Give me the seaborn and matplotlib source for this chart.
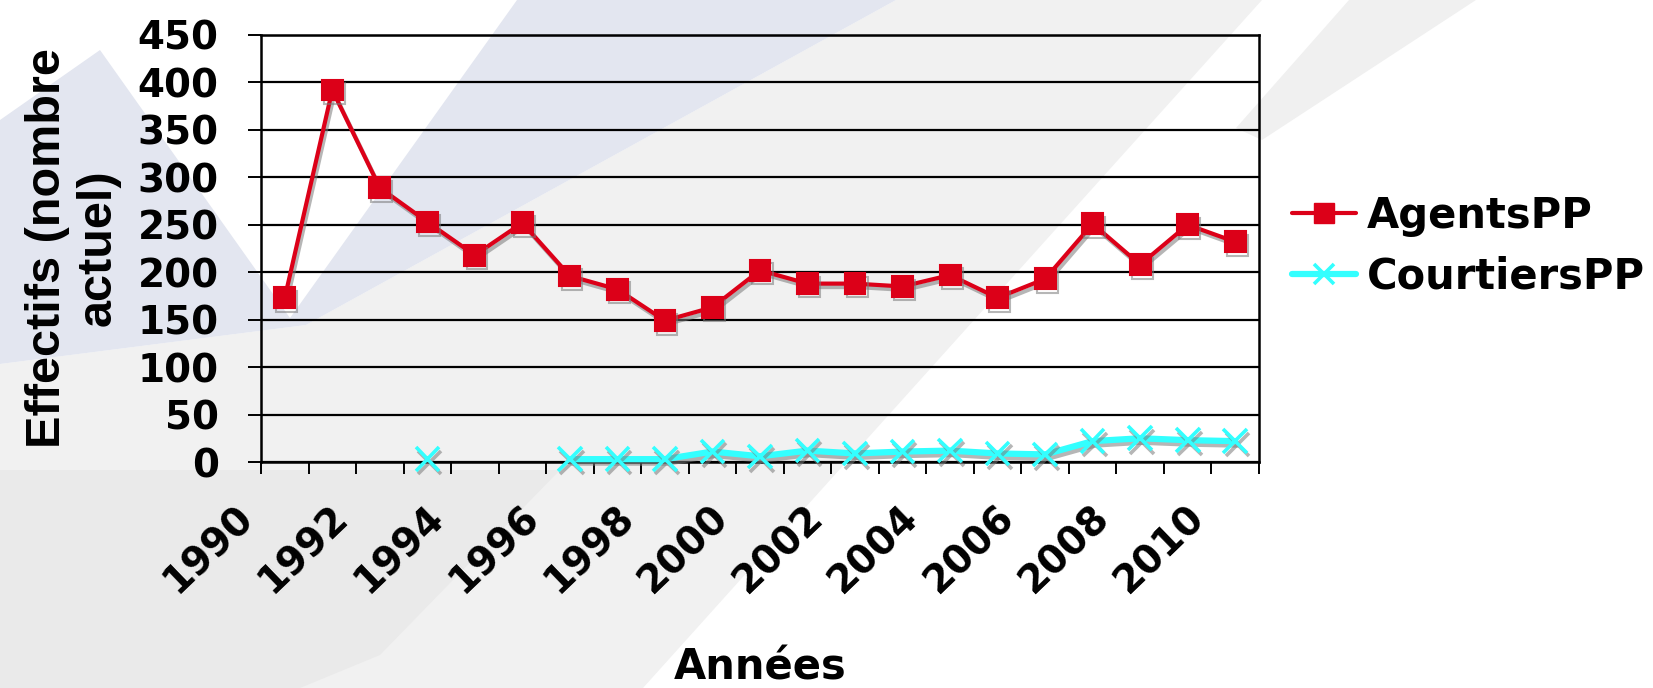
import numpy as np
import pandas as pd
import matplotlib
matplotlib.use("Agg")
import matplotlib.pyplot as plt
import matplotlib.patheffects as pe
from matplotlib.lines import Line2D
from matplotlib.patches import Polygon
from matplotlib.transforms import IdentityTransform
import seaborn as sns

# data
years = list(range(1990, 2011))
agents = [173, 392, 289, 253, 218, 252, 196, 182, 149, 163, 202,
          188, 188, 185, 197, 173, 193, 251, 208, 250, 232]
courtiers = [np.nan, np.nan, np.nan, 3, np.nan, np.nan, 3, 3, 3, 11, 6,
             12, 9, 11, 12, 9, 8, 22, 25, 23, 22]
series_names = ["AgentsPP", "CourtiersPP"]
y_ticks = list(range(0, 451, 50))

RED = "#DC0018"
CYAN = "#33FFFF"

sns.set_theme(style="white")
plt.rcParams["font.family"] = ["DejaVu Sans"]
plt.rcParams["font.weight"] = "bold"
plt.rcParams["text.color"] = "black"
plt.rcParams["xtick.color"] = "black"
plt.rcParams["ytick.color"] = "black"

W, H = 1653, 688
fig = plt.figure(figsize=(W / 100, H / 100), dpi=100)
fig.patch.set_facecolor("white")

# slide background shapes (pixel coords, y from top)
bg_shapes = [
    ([(896, 0), (1262, 0), (643, 688), (0, 688), (0, 364), (306, 325)], "#F1F1F1"),
    ([(0, 470), (560, 470), (380, 655), (300, 688), (0, 688)], "#EAEAEA"),
    ([(517, 0), (896, 0), (306, 325), (0, 364), (0, 120), (100, 50), (290, 318)], "#E3E6F0"),
    ([(1349, 0), (1476, 0), (1262, 140), (1236, 128)], "#F0F0F0"),
]
for verts, col in bg_shapes:
    pts = [(x, H - y) for x, y in verts]
    fig.patches.append(Polygon(pts, closed=True, facecolor=col, edgecolor="none",
                               transform=IdentityTransform(), zorder=-10))

ax = fig.add_axes([261 / W, (H - 462) / H, 998 / W, 427 / H])
ax.set_facecolor("none")

df = pd.DataFrame({"year": years, "agents": agents, "courtiers": courtiers})
df["seg"] = df["courtiers"].isna().cumsum()
dfc = df.dropna(subset=["courtiers"])

shadow = [pe.SimpleLineShadow(offset=(1.5, -2.5), shadow_color="#7a7a7a", alpha=0.55),
          pe.Normal()]

sns.lineplot(data=df, x="year", y="agents", color=RED, lw=3, marker="s",
             markersize=15, markeredgecolor=RED, markeredgewidth=1.5,
             path_effects=shadow, ax=ax, zorder=4, clip_on=False)
sns.lineplot(data=dfc, x="year", y="courtiers", units="seg", estimator=None,
             color=CYAN, lw=4.5, marker="x", markersize=17, markeredgecolor=CYAN,
             markeredgewidth=2.6, path_effects=shadow, ax=ax, zorder=3, clip_on=False)

ax.set_xlim(years[0] - 0.5, years[-1] + 0.5)
ax.set_ylim(0, 450)
ax.set_yticks(y_ticks)
ax.set_yticklabels([str(v) for v in y_ticks])

# category boundaries carry the tick marks, year labels every other one
bounds = np.arange(years[0] - 0.5, years[-1] + 1, 1.0)
ax.set_xticks(bounds)
ax.set_xticklabels([str(int(b + 0.5)) if int(b + 0.5) % 2 == 0 and b + 0.5 <= years[-1] else ""
                    for b in bounds], rotation=44, ha="right", va="top")

ax.tick_params(axis="x", direction="out", length=8.6, width=1.4, pad=17,
               labelsize=28, colors="black")
ax.tick_params(axis="y", direction="out", length=9.4, width=1.4, pad=21,
               labelsize=28, colors="black")
ax.tick_params(bottom=True, left=True)

ax.grid(axis="y", color="black", lw=1.6)
ax.grid(axis="x", visible=False)
for side in ["left", "bottom", "right", "top"]:
    ax.spines[side].set_visible(True)
    ax.spines[side].set_color("black")
    ax.spines[side].set_linewidth(1.8)

ax.set_xlabel("")
ax.set_ylabel("")
fig.text(73 / W, 1 - 248 / H, "Effectifs (nombre\nactuel)", rotation=90,
         ha="center", va="center", fontsize=35, family="Liberation Sans",
         weight="bold", linespacing=1.15, multialignment="center")
fig.text(760 / W, 1 - 680 / H, "Années", ha="center", va="baseline",
         fontsize=30, weight="bold")

handles = [
    Line2D([], [], color=RED, lw=3, marker="s", markersize=15, markeredgecolor=RED),
    Line2D([], [], color=CYAN, lw=4.5, marker="x", markersize=15, markeredgecolor=CYAN,
           markeredgewidth=2.6),
]
fig.legend(handles, series_names, loc="center left",
           bbox_to_anchor=(1292 / W, 1 - 246 / H), frameon=False, fontsize=30,
           handlelength=1.53, handletextpad=0.26, labelspacing=0.45,
           borderpad=0, borderaxespad=0)

fig.savefig("out.png", dpi=100)
